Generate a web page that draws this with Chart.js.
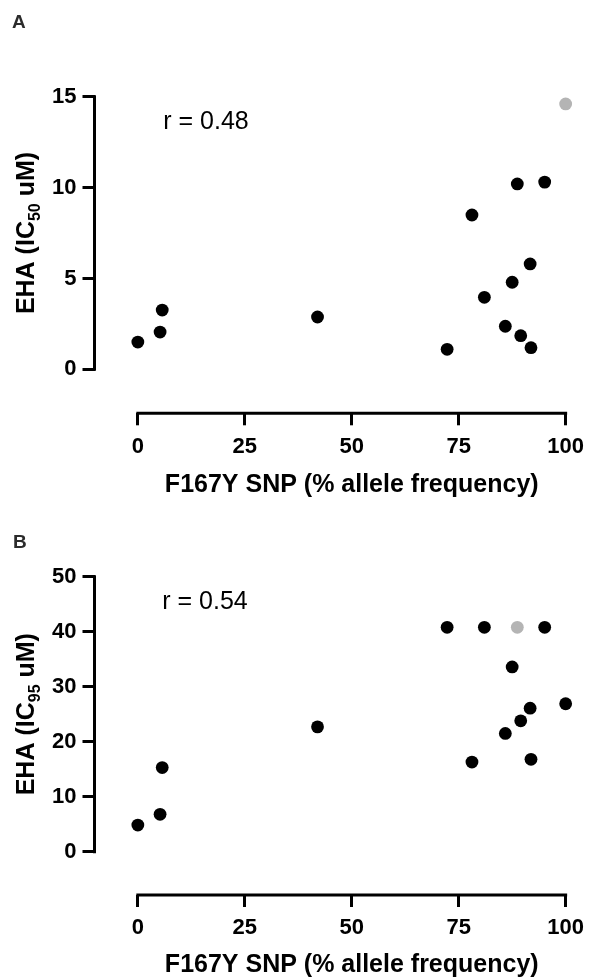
<!DOCTYPE html>
<html><head><meta charset="utf-8">
<script src="https://cdn.jsdelivr.net/npm/chart.js@4"></script>
<style>
html,body{margin:0;padding:0;background:#fff;width:592px;height:979px;overflow:hidden}
canvas{position:absolute;left:0;display:block;background:#fff}
#cA{top:0}
#cB{top:505px}
</style></head><body>
<canvas id="cA" width="592" height="505"></canvas>
<canvas id="cB" width="592" height="474"></canvas>
<script>
// ---- data ----
const alleleFreq = [0, 5.2, 5.7, 42, 72.3, 78.1, 81, 85.9, 87.5, 88.7, 89.5, 91.7, 91.9, 95.1, 100];
const ic50 = [1.5, 2.05, 3.26, 2.88, 1.1, 8.49, 3.96, 2.37, 4.79, 10.2, 1.85, 5.8, 1.19, 10.3, 14.6];
const ic95 = [4.85, 6.8, 15.3, 22.7, 40.8, 16.3, 40.8, 21.5, 33.6, 40.8, 23.8, 26.1, 16.8, 40.8, 26.9];
const excludedA = [14];
const excludedB = [9];
const xTicks = [0, 25, 50, 75, 100];
const yTicksA = [0, 5, 10, 15];
const yTicksB = [0, 10, 20, 30, 40, 50];
const xTitle = 'F167Y SNP (% allele frequency)';
const yTitleA = ['EHA (IC', '50', ' uM)'];
const yTitleB = ['EHA (IC', '95', ' uM)'];
const rTextA = 'r = 0.48';
const rTextB = 'r = 0.54';

const FONT = "'Liberation Sans', Arial, Helvetica, sans-serif";
const LW = 3;

const decoPlugin = {
  id: 'deco',
  afterDraw(chart, args, o) {
    const ctx = chart.ctx, xs = chart.scales.x, ys = chart.scales.y, ca = chart.chartArea;
    ctx.save();
    ctx.strokeStyle = '#000';
    ctx.lineWidth = LW;
    ctx.lineCap = 'butt';
    // detached axis lines, spanning the tick range only
    const yb = ys.getPixelForValue(o.yTicks[0]), yt = ys.getPixelForValue(o.yTicks[o.yTicks.length - 1]);
    ctx.beginPath();
    ctx.moveTo(ca.left, yb + LW / 2);
    ctx.lineTo(ca.left, yt - LW / 2);
    ctx.stroke();
    const xl = xs.getPixelForValue(o.xTicks[0]), xr = xs.getPixelForValue(o.xTicks[o.xTicks.length - 1]);
    ctx.beginPath();
    ctx.moveTo(xl - LW / 2, ca.bottom);
    ctx.lineTo(xr + LW / 2, ca.bottom);
    ctx.stroke();
    // panel letter
    ctx.fillStyle = '#2b2b2b';
    ctx.font = 'bold 19px ' + FONT;
    ctx.textAlign = 'left';
    ctx.textBaseline = 'alphabetic';
    ctx.fillText(o.letter, o.letterX, o.letterY);
    // r annotation
    ctx.fillStyle = '#000';
    ctx.font = '25px ' + FONT;
    ctx.fillText(o.rText, xs.getPixelForValue(o.rAt[0]), ys.getPixelForValue(o.rAt[1]));
    // x title
    ctx.font = 'bold 25px ' + FONT;
    ctx.textAlign = 'center';
    ctx.fillText(xTitle, xs.getPixelForValue(50), ca.bottom + o.xTitleOff);
    // y title with subscript
    const parts = o.yTitle;
    const fMain = 'bold 25px ' + FONT, fSub = 'bold 16px ' + FONT;
    ctx.font = fMain; const w0 = ctx.measureText(parts[0]).width, w2 = ctx.measureText(parts[2]).width;
    ctx.font = fSub; const w1 = ctx.measureText(parts[1]).width;
    const total = w0 + w1 + w2;
    const cy = (yb + yt) / 2;
    ctx.translate(o.yTitleX, cy);
    ctx.rotate(-Math.PI / 2);
    ctx.textAlign = 'left';
    let x = -total / 2;
    ctx.font = fMain; ctx.fillText(parts[0], x, 0); x += w0;
    ctx.font = fSub; ctx.fillText(parts[1], x, 6); x += w1;
    ctx.font = fMain; ctx.fillText(parts[2], x, 0);
    ctx.restore();
  }
};

function makePanel(id, values, excluded, yTicks, yMin, pad, deco) {
  const xMin = -10.13;
  return new Chart(document.getElementById(id), {
    type: 'scatter',
    data: {
      datasets: [{
        data: alleleFreq.map((x, i) => ({ x: x, y: values[i] })),
        pointRadius: 6.4,
        pointHoverRadius: 6.4,
        borderWidth: 0,
        backgroundColor: c => excluded.includes(c.dataIndex) ? '#b4b4b4' : '#000',
        clip: false
      }]
    },
    options: {
      responsive: false,
      animation: false,
      devicePixelRatio: 1,
      events: [],
      layout: { padding: pad },
      plugins: { legend: { display: false }, tooltip: { enabled: false }, deco: deco },
      scales: {
        x: {
          type: 'linear', min: xMin, max: 100,
          afterBuildTicks: s => { s.ticks = xTicks.map(v => ({ value: v })); },
          afterFit: s => { s.height = 50; },
          border: { display: false },
          grid: { display: true, drawOnChartArea: false, drawTicks: true, tickLength: 12, tickWidth: LW, tickColor: '#000', color: '#000', lineWidth: LW },
          ticks: { color: '#000', padding: 8, maxRotation: 0, autoSkip: false, font: { family: FONT, size: 22, weight: 'bold' } }
        },
        y: {
          type: 'linear', min: yMin, max: yTicks[yTicks.length - 1],
          afterBuildTicks: s => { s.ticks = yTicks.map(v => ({ value: v })); },
          afterFit: s => { s.width = 94.5; },
          border: { display: false },
          grid: { display: true, drawOnChartArea: false, drawTicks: true, tickLength: 12, tickWidth: LW, tickColor: '#000', color: '#000', lineWidth: LW },
          ticks: { color: '#000', padding: 6, autoSkip: false, font: { family: FONT, size: 22, weight: 'bold' } }
        }
      }
    },
    plugins: [decoPlugin]
  });
}

makePanel('cA', ic50, excludedA, yTicksA, -2.42,
  { left: 0, top: 96.7, right: 21.3, bottom: 41.7 },
  { xTicks: xTicks, yTicks: yTicksA, letter: 'A', letterX: 12, letterY: 28, rText: rTextA, rAt: [5.94, 13.2], xTitleOff: 78.4, yTitle: yTitleA, yTitleX: 34 });

makePanel('cB', ic95, excludedB, yTicksB, -7.87,
  { left: 0, top: 71.7, right: 21.3, bottom: 34 },
  { xTicks: xTicks, yTicks: yTicksB, letter: 'B', letterX: 13, letterY: 43, rText: rTextB, rAt: [5.7, 44.1], xTitleOff: 76.7, yTitle: yTitleB, yTitleX: 34 });
</script>
</body></html>
